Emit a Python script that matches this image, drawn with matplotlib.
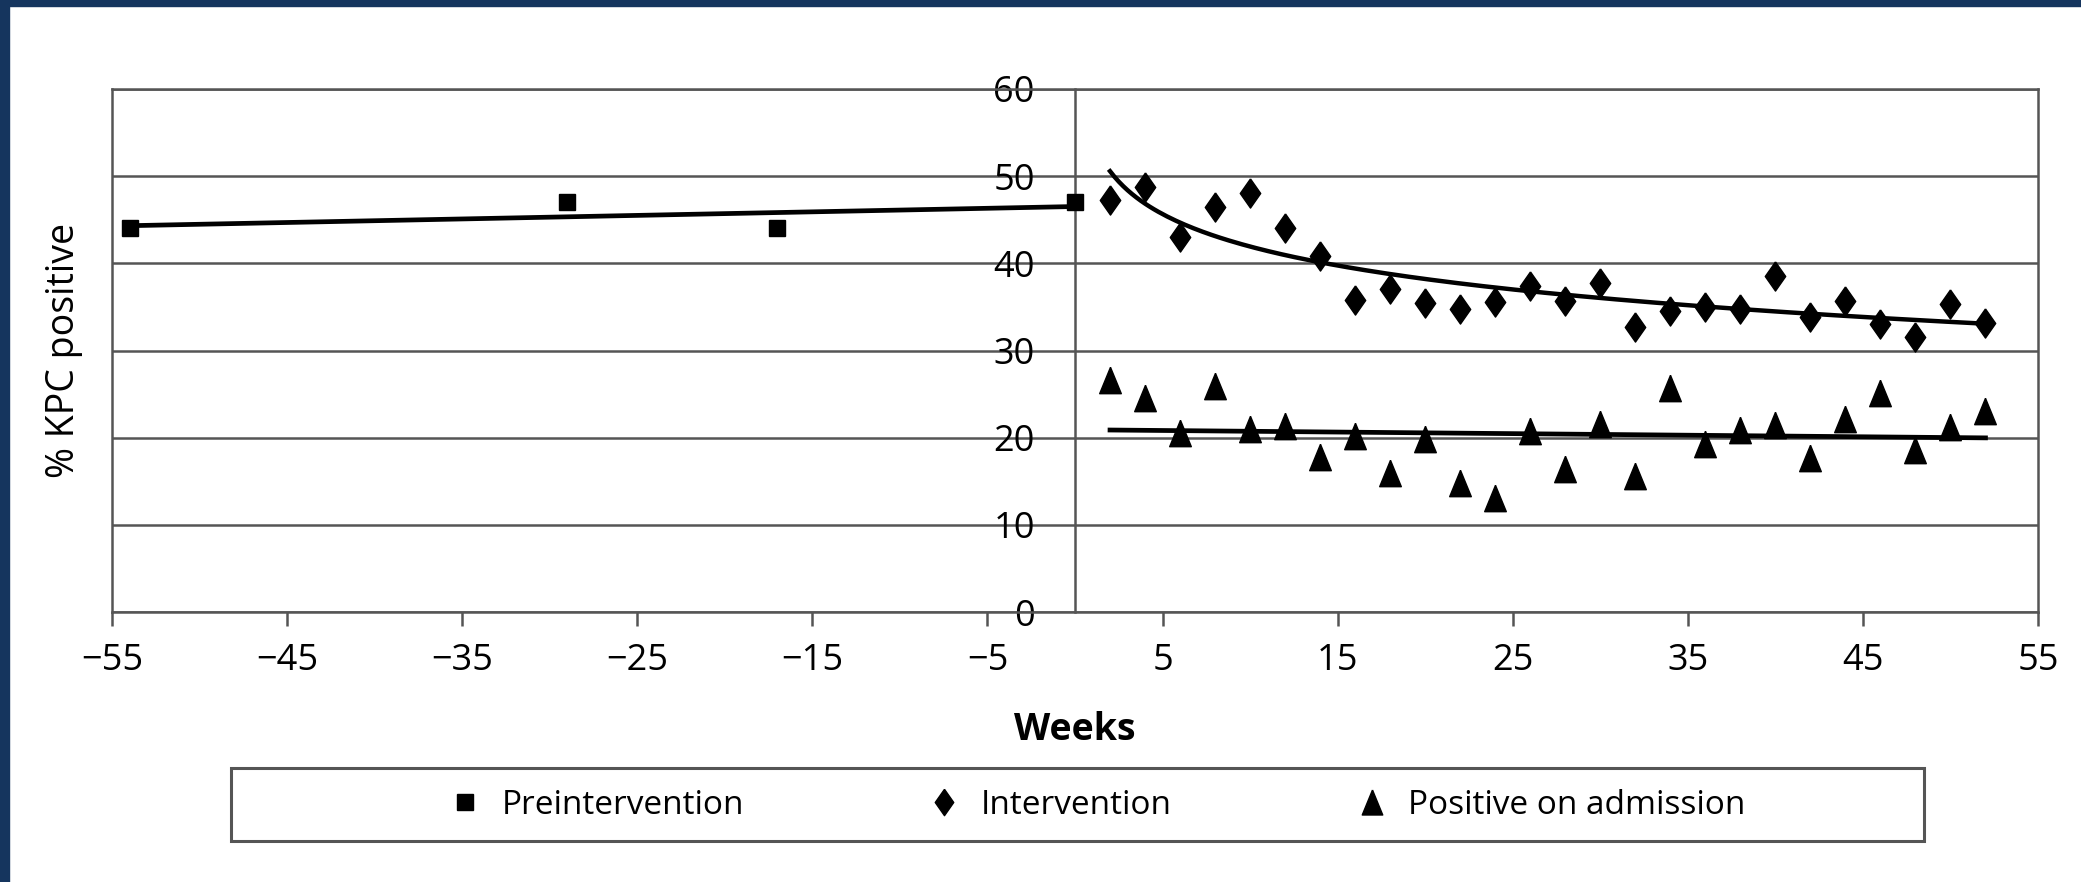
import numpy as np
import matplotlib
matplotlib.use('Agg')
import matplotlib.pyplot as plt
from matplotlib.patches import Rectangle

# ── Data ───────────────────────────────────────
pre_weeks  = [-54, -29, -17, 0]
pre_values = [44.0, 47.0, 44.0, 47.0]

int_weeks  = list(range(2, 53, 2))
int_values = [47.3, 48.7, 43.0, 46.5, 48.1, 44.0, 40.8, 35.8, 37.0, 35.4,
              34.8, 35.6, 37.4, 35.7, 37.7, 32.7, 34.5, 35.0, 34.8, 38.5,
              33.9, 35.7, 33.0, 31.5, 35.3, 33.1]

adm_weeks  = list(range(2, 53, 2))
adm_values = [26.6, 24.6, 20.5, 25.9, 21.0, 21.3, 17.8, 20.2, 16.0, 19.8,
              14.8, 13.1, 20.8, 16.4, 21.6, 15.6, 25.7, 19.3, 20.9, 21.4,
              17.7, 22.1, 25.1, 18.6, 21.2, 23.1]

x_ticks = list(range(-55, 56, 10))
y_ticks = list(range(0, 61, 10))

# ── Style ──────────────────────────────────────
W, H = 2081, 882
DPI  = 100
NAVY = '#15355e'
GRID = '#555555'
plt.rcParams['font.family'] = ['Open Sans', 'DejaVu Sans']

# marker shapes: a slim diamond and a slightly tall triangle
DIAMOND  = [(0, 1), (0.7, 0), (0, -1), (-0.7, 0), (0, 1)]
TRIANGLE = [(0, 1), (0.82, -1), (-0.82, -1), (0, 1)]

fig = plt.figure(figsize=(W / DPI, H / DPI), dpi=DPI)
fig.patch.set_facecolor('white')

# navy strips along the top and left edges
fig.patches.append(Rectangle((0, 1 - 6 / H), 1, 6 / H, transform=fig.transFigure,
                             color=NAVY, zorder=0))
fig.patches.append(Rectangle((0, 0), 9 / W, 1, transform=fig.transFigure,
                             color=NAVY, zorder=0))

left, right = 112 / W, 2038 / W
bottom, top = 1 - 612 / H, 1 - 89 / H
ax = fig.add_axes([left, bottom, right - left, top - bottom])

# ── Scatter points ─────────────────────────────
ax.plot(pre_weeks, pre_values, 's', color='black', ms=12, clip_on=False, zorder=4)
ax.plot(int_weeks, int_values, ls='none', marker=DIAMOND, color='black', ms=21,
        clip_on=False, zorder=4)
ax.plot(adm_weeks, adm_values, ls='none', marker=TRIANGLE, color='black', ms=19,
        clip_on=False, zorder=4)

# ── Trend lines ────────────────────────────────
pre_fit = np.polyfit(pre_weeks, pre_values, 1)
xs = np.linspace(min(pre_weeks), max(pre_weeks), 50)
ax.plot(xs, np.polyval(pre_fit, xs), color='black', lw=3.4, zorder=3)

int_fit = np.polyfit(np.log(int_weeks), int_values, 1)
xs = np.linspace(min(int_weeks), max(int_weeks), 200)
ax.plot(xs, np.polyval(int_fit, np.log(xs)), color='black', lw=3.2, zorder=3)

adm_fit = np.polyfit(adm_weeks, adm_values, 1)
xs = np.linspace(min(adm_weeks), max(adm_weeks), 50)
ax.plot(xs, np.polyval(adm_fit, xs), color='black', lw=3.4, zorder=3)

# ── Axes ───────────────────────────────────────
ax.set_xlim(-55, 55)
ax.set_ylim(0, 60)
ax.set_xticks(x_ticks)
ax.set_yticks(y_ticks)

ax.spines['left'].set_position(('data', 0))
for side in ['left', 'right', 'top', 'bottom']:
    ax.spines[side].set_color(GRID)
    ax.spines[side].set_linewidth(1.8)
# outer frame on the left edge
ax.axvline(-55, color=GRID, lw=1.8, clip_on=False, zorder=2)

ax.yaxis.grid(True, color=GRID, lw=1.8)
ax.set_axisbelow(True)

ax.tick_params(axis='x', direction='out', length=10, width=1.8, color=GRID,
               labelsize=26, pad=12)
ax.tick_params(axis='y', length=0, labelsize=26, pad=29)

# ── Labels ─────────────────────────────────────
fig.text(64 / W, 1 - 350 / H, '% KPC positive', rotation=90,
         ha='center', va='center', fontsize=27)
fig.text(1075 / W, 1 - 730 / H, 'Weeks', ha='center', va='center',
         fontsize=27, fontweight='bold')

# ── Legend ─────────────────────────────────────
fig.patches.append(Rectangle((231 / W, 1 - 841 / H), 1693 / W, 73 / H,
                             transform=fig.transFigure, fill=False,
                             edgecolor=GRID, lw=2.2))
handles = [
    plt.Line2D([], [], ls='none', marker='s', color='black', ms=12),
    plt.Line2D([], [], ls='none', marker=DIAMOND, color='black', ms=19),
    plt.Line2D([], [], ls='none', marker=TRIANGLE, color='black', ms=18),
]
fig.legend(handles, ['Preintervention', 'Intervention', 'Positive on admission'],
           loc='center', bbox_to_anchor=(1097 / W, 1 - 805 / H), ncol=3,
           frameon=False, fontsize=24, handlelength=1.0, handletextpad=0.6,
           columnspacing=5.5)

fig.savefig('out.png', dpi=DPI, facecolor=fig.get_facecolor())
